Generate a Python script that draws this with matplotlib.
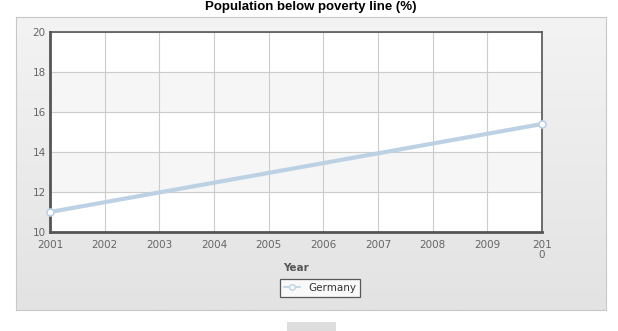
import matplotlib.pyplot as plt
import numpy as np
from matplotlib.patches import Rectangle
from matplotlib.lines import Line2D
from matplotlib.colors import LinearSegmentedColormap

years = [2001, 2010]
germany = [11.0, 15.4]
year_ticks = [2001, 2002, 2003, 2004, 2005, 2006, 2007, 2008, 2009, 2010]
year_labels = ["2001", "2002", "2003", "2004", "2005", "2006", "2007", "2008", "2009", "201\n0"]
y_ticks = [10, 12, 14, 16, 18, 20]

W, H = 618, 331
fig = plt.figure(figsize=(W / 100, H / 100), dpi=100)
fig.patch.set_facecolor("white")

# grey gradient panel behind the chart
bg = fig.add_axes([16 / W, 1 - 310 / H, 590 / W, 293 / H])
grad = np.linspace(0, 1, 100).reshape(-1, 1)
bg.imshow(grad, aspect="auto", cmap=LinearSegmentedColormap.from_list("g", ["#f3f3f3", "#e3e3e3"]),
          extent=[0, 1, 0, 1], origin="upper")
bg.set_xticks([])
bg.set_yticks([])
for s in bg.spines.values():
    s.set_color("#c8c8c8")
    s.set_linewidth(0.8)

ax = fig.add_axes([50 / W, 1 - 232 / H, 492 / W, 200 / H])
ax.set_facecolor("white")
# alternating bands
for i, lo in enumerate(y_ticks[:-1]):
    if i % 2 == 1:
        ax.axhspan(lo, lo + 2, color="#f6f6f6", zorder=0)

ax.plot(years, germany, color="#bcd2e4", lw=3.0, solid_capstyle="round", zorder=3,
        marker="o", markersize=5, markerfacecolor="white", markeredgecolor="#bcd2e4",
        markeredgewidth=1.2, clip_on=False)

ax.set_xlim(2001, 2010)
ax.set_ylim(10, 20)
ax.set_xticks(year_ticks)
ax.set_xticklabels(year_labels, va="top")
ax.set_yticks(y_ticks)
ax.grid(True, color="#cccccc", lw=0.8, zorder=1)
ax.set_axisbelow(True)
ax.tick_params(axis="x", length=0, labelsize=7.5, labelcolor="#666666", pad=6)
ax.tick_params(axis="y", length=0, labelsize=7.5, labelcolor="#666666", pad=3)
for lab in ax.get_xticklabels():
    lab.set_linespacing(1.0)
for side in ["left", "bottom"]:
    ax.spines[side].set_color("#555555")
    ax.spines[side].set_linewidth(2)
for side in ["top", "right"]:
    ax.spines[side].set_color("#555555")
    ax.spines[side].set_linewidth(1.2)

ax.set_xlabel("Year", fontsize=7.5, fontweight="bold", color="#555555", labelpad=2)

fig.text(311 / W, 1 - 7 / H, "Population below poverty line (%)", ha="center", va="center",
         fontsize=9.5, fontweight="bold", family="Liberation Sans")

# legend
handle = Line2D([], [], color="#bcd2e4", lw=1.2, marker="o", markersize=4,
                markerfacecolor="white", markeredgecolor="#bcd2e4")
leg = fig.legend([handle], ["Germany"], loc="center", bbox_to_anchor=(320 / W, 1 - 288 / H),
                 fontsize=7.5, frameon=True, fancybox=False, handlelength=1.6,
                 borderpad=0.35, handletextpad=0.8)
leg.get_frame().set_edgecolor("#333333")
leg.get_frame().set_linewidth(0.9)
leg.get_frame().set_facecolor("white")
for t in leg.get_texts():
    t.set_color("#333333")

# button stub at the bottom
fig.patches.append(Rectangle((287 / W, 0), 49 / W, 9 / H, transform=fig.transFigure,
                             facecolor="#dddddd", edgecolor="none"))

plt.savefig("out.png", dpi=100)
